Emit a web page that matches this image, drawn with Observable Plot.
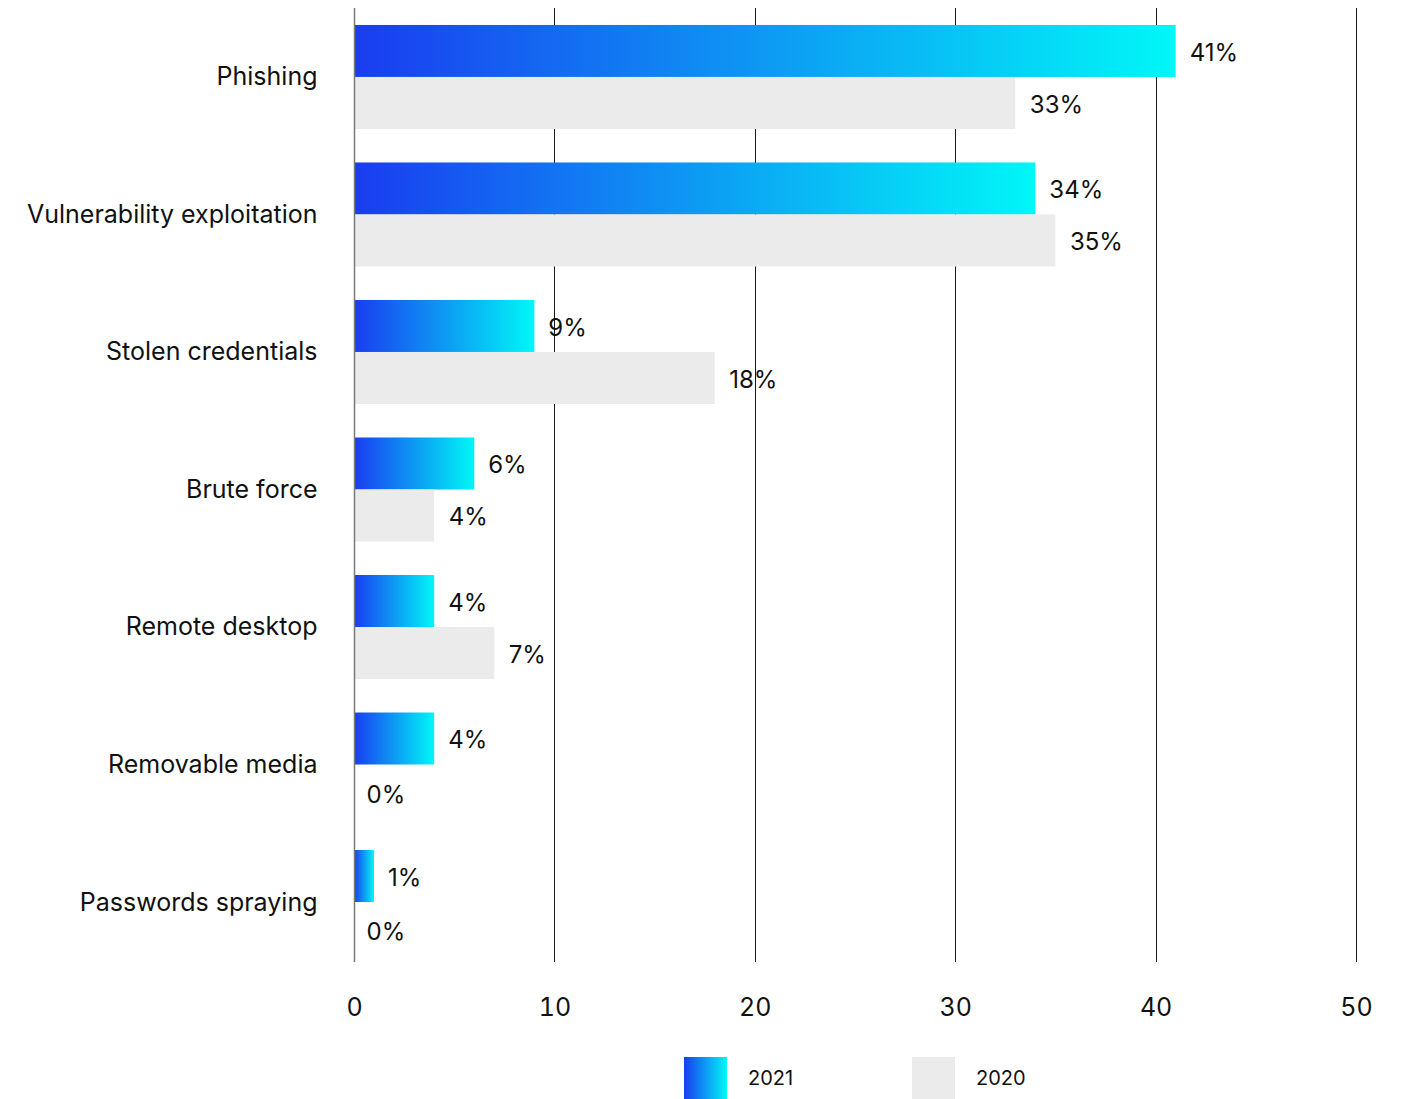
<!DOCTYPE html>
<html>
<head>
<meta charset="utf-8">
<script src="https://cdn.jsdelivr.net/npm/d3@7"></script>
<script src="https://cdn.jsdelivr.net/npm/@observablehq/plot@0.6"></script>
<style>
  body { margin: 0; background: #fff; font-family: Inter, "Noto Sans", sans-serif; color: #111; }
  #chart svg { display: block; }
  .legend { position: relative; height: 59px; }
  .legend .item { position: absolute; top: 17px; display: flex; align-items: center; }
  .legend .sw { width: 43px; height: 42px; }
  .legend .lab { margin-left: 21px; font-size: 20px; }
</style>
</head>
<body>
<div id="chart"></div>
<div class="legend">
  <div class="item" style="left:684px"><div class="sw" style="background:linear-gradient(to right,#1a3cf0,#00f7f7)"></div><div class="lab">2021</div></div>
  <div class="item" style="left:912px"><div class="sw" style="background:#ebebeb"></div><div class="lab">2020</div></div>
</div>
<script>
const categories = ["Phishing", "Vulnerability exploitation", "Stolen credentials", "Brute force", "Remote desktop", "Removable media", "Passwords spraying"];
const values2021 = [41, 34, 9, 6, 4, 4, 1];
const values2020 = [33, 35, 18, 4, 7, 0, 0];
const xTicks = [0, 10, 20, 30, 40, 50];

const d21 = categories.map((c, i) => ({category: c, value: values2021[i]}));
const d20 = categories.map((c, i) => ({category: c, value: values2020[i]}));

const bandHalf = 52;
const font = "Inter, 'Noto Sans', sans-serif";

const plot = Plot.plot({
  width: 1405,
  height: 1040,
  marginLeft: 354,
  marginRight: 49,
  marginTop: 8,
  marginBottom: 78,
  style: {fontFamily: font, fontSize: "24px", color: "#111", background: "#fff"},
  x: {domain: [0, 50], ticks: xTicks, label: null},
  y: {domain: categories, paddingInner: 0.2436, paddingOuter: 0.0907, align: 0.68, round: false, label: null},
  marks: [
    Plot.ruleX(xTicks.filter(d => d !== 0), {stroke: "#1a1a1a", strokeWidth: 1, shapeRendering: "crispEdges"}),
    Plot.barX(d21, {x: "value", y: "category", fill: "url(#grad2021)", insetBottom: bandHalf}),
    Plot.barX(d20, {x: "value", y: "category", fill: "#ebebeb", insetTop: bandHalf}),
    Plot.ruleX([0], {stroke: "#7a7a7a", strokeWidth: 1.5}),
    Plot.text(d21, {x: "value", y: "category", text: d => d.value + "%", dx: 13.5, dy: -bandHalf / 2 + 1.5, textAnchor: "start", fill: "#111", fontSize: 24}),
    Plot.text(d20.filter(d => d.value !== 0), {x: "value", y: "category", text: d => d.value + "%", dx: 14, dy: bandHalf / 2 + 1.5, textAnchor: "start", fill: "#111", fontSize: 24}),
    Plot.text(d20.filter(d => d.value === 0), {x: "value", y: "category", text: d => d.value + "%", dx: 12, dy: bandHalf / 2 + 4, textAnchor: "start", fill: "#111", fontSize: 24}),
    Plot.axisY({tickSize: 0, tickPadding: 37, fontSize: 25, label: null}),
    Plot.axisX({ticks: xTicks, tickSize: 0, tickPadding: 36, fontSize: 25, label: null})
  ]
});

const svg = d3.select(plot);
const defs = svg.insert("defs", ":first-child");
const g = defs.append("linearGradient").attr("id", "grad2021").attr("x1", "0").attr("x2", "1").attr("y1", "0").attr("y2", "0");
g.append("stop").attr("offset", "0%").attr("stop-color", "#1a3cf0");
g.append("stop").attr("offset", "100%").attr("stop-color", "#00f7f7");

document.getElementById("chart").appendChild(plot);
</script>
</body>
</html>
